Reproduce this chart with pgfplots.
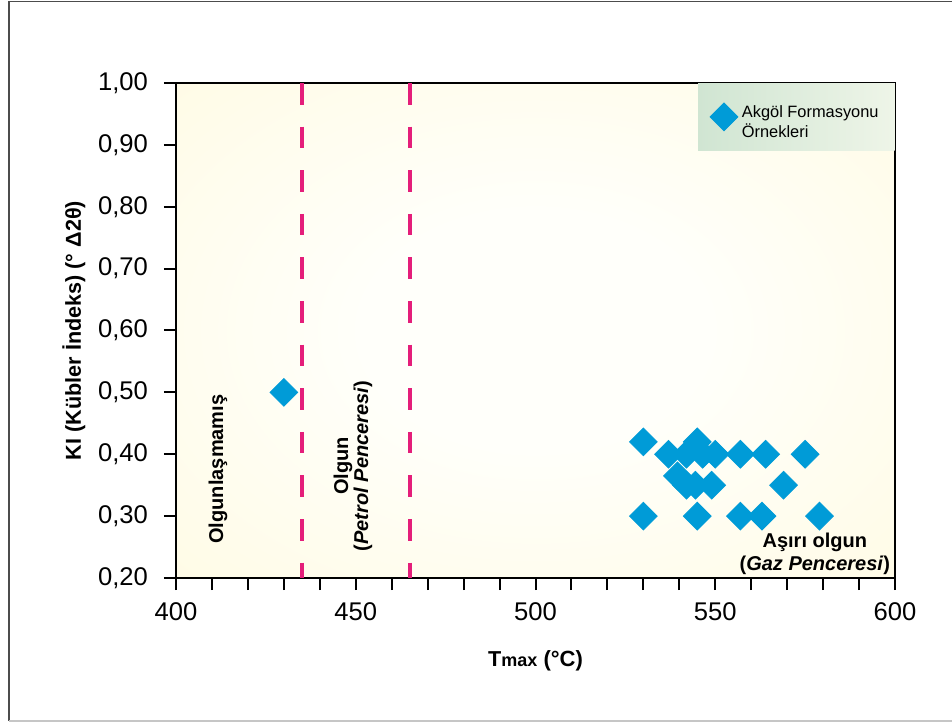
\documentclass[border=0pt]{standalone}
\usepackage{pgfplots}
\pgfplotsset{compat=1.18}
\usepackage{fontspec}
\setmainfont{Liberation Sans}
\definecolor{ptblue}{RGB}{0,155,215}
\definecolor{dashpink}{RGB}{228,30,122}
\definecolor{bgmid}{RGB}{255,249,218}
\definecolor{bgcorner}{RGB}{255,242,192}
\definecolor{bgcenter}{RGB}{255,255,250}
\definecolor{leggreenL}{RGB}{208,229,210}
\definecolor{leggreenR}{RGB}{238,245,232}
\pgfdeclareradialshading{plotbg}{\pgfpoint{0bp}{0bp}}{color(0bp)=(bgcenter); color(12bp)=(bgcenter); color(50bp)=(bgmid); color(71bp)=(bgcorner)}
\pgfplotsset{mylegimg/.style={legend image code/.code={\draw[mark repeat=2,mark phase=2,##1] plot coordinates {(0cm,0cm) (0.3cm+3.5pt,0cm) (0.6cm+3.5pt,0cm)};}}}
\begin{document}
\begin{tikzpicture}
\begin{axis}[
  scale only axis, width=359.5pt, height=247.5pt,
  xmin=400, xmax=600, ymin=0.2, ymax=1.0,
  xtick={400,450,500,550,600},
  minor xtick={410,420,430,440,460,470,480,490,510,520,530,540,560,570,580,590},
  ytick={0.2,0.3,0.4,0.5,0.6,0.7,0.8,0.9,1.0},
  xtick pos=lower, ytick pos=left,
  tick align=outside, major tick length=6pt, minor tick length=6pt,
  every tick/.style={black, line width=1pt},
  minor tick style={black, line width=1pt},
  axis line style={line width=1pt},
  axis background/.style={shade, shading=plotbg},
  tick label style={font=\fontsize{12.8}{15}\selectfont},
  /pgf/number format/assume math mode=true,
  yticklabel style={xshift=-4.5pt, /pgf/number format/.cd, fixed, fixed zerofill, precision=2, use comma},
  xticklabel style={yshift=-3pt, /pgf/number format/.cd, fixed, precision=0, 1000 sep={}},
  xlabel={\textbf{T\fontsize{9}{10}\selectfont max\fontsize{11}{13}\selectfont\ (°C)}},
  ylabel={\textbf{KI (Kübler İndeks) (° Δ2θ)}},
  label style={font=\fontsize{10.8}{13}\selectfont\bfseries},
  xlabel style={at={(axis description cs:0.5,-0.168)}, anchor=center},
  ylabel style={at={(axis description cs:-0.1225,0.5)}, anchor=center, yshift=7pt},
  legend style={at={(1,1)}, anchor=north east, draw=none,
    left color=leggreenL, right color=leggreenR,
    font=\fontsize{8.2}{10}\selectfont, inner xsep=6pt, inner ysep=8pt},
  legend cell align=left,
]
\addplot[dashpink, line width=2pt, dash pattern=on 10.8pt off 11pt, forget plot] coordinates {(435,1.0) (435,0.2)};
\addplot[dashpink, line width=2pt, dash pattern=on 10.8pt off 11pt, forget plot] coordinates {(465,1.0) (465,0.2)};
\addplot[only marks, mark=square*, mark size=4.9pt, mark options={rotate=45, fill=ptblue, draw=ptblue}, mylegimg] coordinates {
(430,0.50)
(530,0.42) (545,0.42)
(537,0.40) (542,0.40) (546.5,0.40) (550,0.40) (557,0.40) (564,0.40) (575,0.40)
(539.5,0.365) (542,0.35) (544.5,0.35) (549,0.35) (569,0.35)
(530,0.30) (545,0.30) (557,0.30) (563,0.30) (579,0.30)
};
\addlegendentry{\begin{tabular}{@{}l@{}}Akgöl Formasyonu\\Örnekleri\end{tabular}}
\node[rotate=90, font=\fontsize{10}{10}\selectfont\bfseries] at (axis cs:411.7,0.376) {Olgunlaşmamış};
\node[rotate=90, align=center, font=\fontsize{10}{10}\selectfont\bfseries] at (axis cs:449.2,0.381) {Olgun\\(\textit{Petrol Penceresi})};
\node[align=center, font=\fontsize{10}{11.5}\selectfont\bfseries] at (axis cs:577.7,0.2396) {Aşırı olgun\\(\textit{Gaz Penceresi})};
\end{axis}
\begin{scope}[shift={(current axis.south west)}]
  \draw[gray!60!black, line width=0.7pt] (390pt,288.3pt) -- (-83.5pt,288.3pt) -- (-83.5pt,-71.3pt);
  \draw[gray!45, line width=1pt] (-83.5pt,-71.3pt) -- (390pt,-71.3pt);
  \pgfresetboundingbox
  \path[use as bounding box] (-88pt,-72pt) rectangle (388pt,289pt);
\end{scope}
\end{tikzpicture}
\end{document}
